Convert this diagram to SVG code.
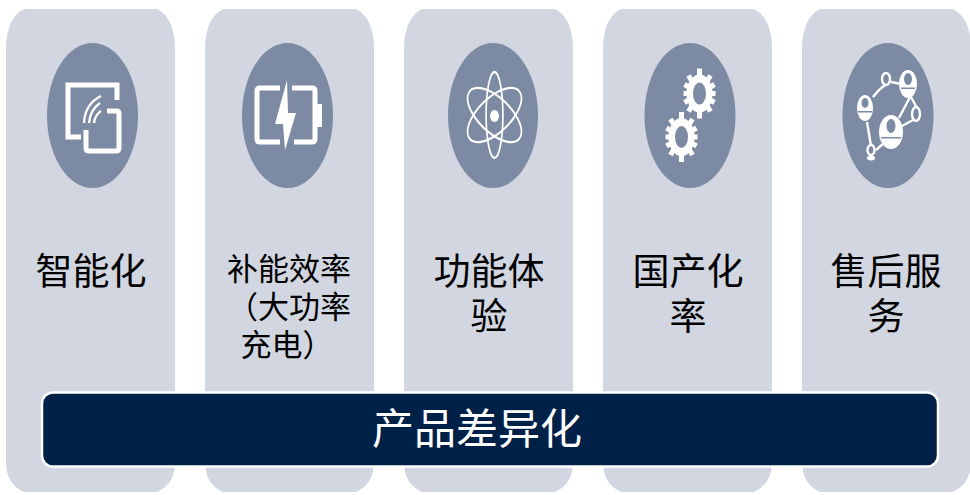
<svg xmlns="http://www.w3.org/2000/svg" width="970" height="495" viewBox="0 0 970 495">
<style>
.card{fill:#d1d6e1}
.disc{fill:#7c8ba3}
.t{font-family:"Noto Sans CJK SC","Liberation Sans",sans-serif;font-size:37px;font-weight:400;fill:#000;text-anchor:middle}
.s{font-size:31px}
.line{fill:none;stroke:#fff;stroke-width:5}
.thin{fill:none;stroke:#fff;stroke-width:2.4}
.w{fill:#fff}
</style>
<defs>
<path id="cardshape" d="M24 9H157Q175 18 175 50V462Q175 484 157 492H24Q6 484 6 462V50Q6 18 24 9Z"/>
<g id="gear">
<ellipse rx="13" ry="19" fill="#fff"/>
<g stroke="#fff" stroke-width="5" fill="none"><path d="M0-25V25M-16 0H16M-11-18L11 18M-11 18L11-18M-15-9L15 9M-15 9L15-9"/></g>
<ellipse rx="6.500" ry="11" class="disc"/>
</g>
</defs>
<g id="node-1">
<use href="#cardshape" class="card"/>
<ellipse class="disc" cx="92.500" cy="115.500" rx="45.500" ry="72.500"/>
<path class="line" d="M117 100V85H68V137H81"/>
<path class="line" d="M107 111H117Q119 111 119 114V148Q119 151 116 151H89Q86 151 86 148V130"/>
<g class="thin"><path d="M84 123Q85 104 101 96"/><path d="M89 123Q90 110 100 103"/><path d="M94 123Q95 115 101 111"/></g>
<text class="t" x="91" y="284.500">智能化</text>
</g>
<g id="node-2">
<use href="#cardshape" x="199" class="card"/>
<ellipse class="disc" cx="287.500" cy="115.500" rx="45.500" ry="72.500"/>
<path class="line" d="M280 88H260Q257 88 257 91V139Q257 142 260 142H280M292 88H312Q315 88 315 91V139Q315 142 312 142H294"/>
<path class="w" d="M315 104H322V127H315Z"/>
<path class="w" d="M287 80L275 124H283L285 150L296 113H288Z"/>
<text class="t s" x="289" y="280">补能效率</text>
<text class="t s" x="289" y="318">（大功率</text>
<text class="t s" x="287" y="356">充电）</text>
</g>
<g id="node-3">
<use href="#cardshape" x="398" class="card"/>
<ellipse class="disc" cx="493" cy="115.500" rx="45" ry="72.500"/>
<g class="thin" transform="translate(494.500 115) scale(.7 1)">
<ellipse rx="12" ry="43"/><ellipse rx="19" ry="43" transform="rotate(60)"/><ellipse rx="19" ry="43" transform="rotate(-60)"/>
</g>
<ellipse class="w" cx="494.500" cy="116" rx="4.500" ry="6"/>
<text class="t" x="489" y="284.500">功能体</text>
<text class="t" x="489" y="330">验</text>
</g>
<g id="node-4">
<use href="#cardshape" x="597" class="card"/>
<ellipse class="disc" cx="690" cy="115.500" rx="45.500" ry="72.500"/>
<use href="#gear" transform="translate(699.500 93.500)"/>
<use href="#gear" transform="translate(681.500 137)"/>
<text class="t" x="688" y="284.500">国产化</text>
<text class="t" x="688" y="330">率</text>
</g>
<g id="node-5">
<use href="#cardshape" x="796" class="card"/>
<ellipse class="disc" cx="888" cy="115.500" rx="45.500" ry="72.500"/>
<path class="thin" d="M873 97Q878 90 885 85M891 82L901 84M911 97L917 108M910 97L899 118M913 120L902 126M867 122L871 146M876 150L884 143"/>
<ellipse class="w" cx="908" cy="84" rx="9" ry="14"/>
<ellipse class="disc" cx="908" cy="79" rx="4" ry="6"/>
<rect class="disc" x="901" y="87.500" width="14" height="1.500"/>
<ellipse class="w" cx="865" cy="108" rx="8" ry="13"/>
<ellipse class="disc" cx="865" cy="103" rx="3.500" ry="5"/>
<rect class="disc" x="858" y="111" width="14" height="1.500"/>
<ellipse class="w" cx="891" cy="132" rx="12" ry="17"/>
<ellipse class="disc" cx="891" cy="126" rx="4.500" ry="7"/>
<rect class="disc" x="881" y="137" width="20" height="1.500"/>
<ellipse class="thin" cx="886" cy="79" rx="4" ry="6"/>
<ellipse class="thin" cx="916" cy="114" rx="4" ry="7"/>
<ellipse class="thin" cx="871" cy="150" rx="3.500" ry="5"/>
<ellipse class="w" cx="871" cy="158" rx="4" ry="2.500"/>
<text class="t" x="886" y="284.500">售后服</text>
<text class="t" x="886" y="330">务</text>
</g>
<g id="node-6">
<rect x="42" y="392.500" width="896" height="74" rx="11" fill="#002147" stroke="#fff" stroke-width="2.500"/>
<text class="t" x="477" y="444" style="fill:#fff;font-size:42px">产品差异化</text>
</g>
<g id="connectors"/>
</svg>
